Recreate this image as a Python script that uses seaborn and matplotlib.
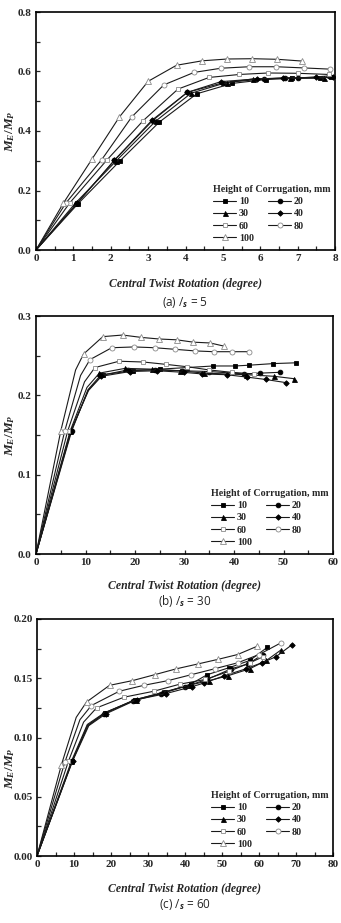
import numpy as np
import pandas as pd
import matplotlib
matplotlib.use("Agg")
import matplotlib.pyplot as plt
from matplotlib.lines import Line2D
from matplotlib.ticker import MultipleLocator, FormatStrFormatter
import seaborn as sns

HEIGHTS = ["10", "20", "30", "40", "60", "80", "100"]

# panel (a)  ratio 5
A_10_X = [0, 1.12, 2.25, 3.3, 4.3, 5.25, 6.15, 6.85, 7.6, 7.9]
A_10_Y = [0, 0.155, 0.300, 0.430, 0.525, 0.560, 0.573, 0.577, 0.578, 0.582]
A_20_X = [0, 1.1, 2.1, 3.12, 4.05, 5.0, 6.1, 6.65, 7.0, 7.85]
A_20_Y = [0, 0.157, 0.302, 0.435, 0.530, 0.562, 0.575, 0.578, 0.578, 0.585]
A_30_X = [0, 1.05, 2.15, 3.2, 4.15, 5.1, 5.8, 6.8, 7.7]
A_30_Y = [0, 0.157, 0.300, 0.433, 0.527, 0.563, 0.575, 0.578, 0.578]
A_40_X = [0, 1.1, 2.1, 3.1, 4.05, 4.95, 5.9, 6.6, 7.5, 7.95]
A_40_Y = [0, 0.157, 0.302, 0.436, 0.530, 0.566, 0.575, 0.578, 0.580, 0.580]
A_60_X = [0, 0.9, 1.9, 2.87, 3.8, 4.63, 5.44, 6.21, 7.0, 7.85]
A_60_Y = [0, 0.158, 0.303, 0.435, 0.541, 0.580, 0.590, 0.595, 0.594, 0.590]
A_80_X = [0, 0.8, 1.76, 2.56, 3.42, 4.23, 4.95, 5.7, 6.43, 7.17, 7.86]
A_80_Y = [0, 0.158, 0.304, 0.447, 0.555, 0.597, 0.611, 0.616, 0.616, 0.612, 0.608]
A_100_X = [0, 0.73, 1.5, 2.23, 3.0, 3.76, 4.45, 5.12, 5.79, 6.46, 7.13]
A_100_Y = [0, 0.157, 0.306, 0.447, 0.567, 0.621, 0.636, 0.642, 0.643, 0.641, 0.635]

# panel (b)  ratio 30  (index 2 is an unmarked knee point)
B_10_X = [0, 7.1, 10.6, 13.5, 19.5, 25.0, 30.5, 35.8, 40.2, 43.1, 47.9, 52.5]
B_10_Y = [0, 0.155, 0.207, 0.226, 0.231, 0.233, 0.235, 0.237, 0.237, 0.238, 0.240, 0.241]
B_20_X = [0, 7.2, 10.5, 13.0, 18.5, 24.0, 29.5, 35.0, 42.0, 45.3, 49.2]
B_20_Y = [0, 0.155, 0.207, 0.225, 0.232, 0.232, 0.231, 0.230, 0.227, 0.228, 0.229]
B_30_X = [0, 6.9, 10.3, 12.8, 18.0, 23.5, 29.0, 34.0, 42.5, 48.1, 52.1]
B_30_Y = [0, 0.155, 0.210, 0.228, 0.234, 0.233, 0.231, 0.228, 0.226, 0.224, 0.221]
B_40_X = [0, 7.0, 10.6, 13.2, 19.0, 24.5, 29.8, 33.5, 38.5, 42.6, 46.4, 50.5]
B_40_Y = [0, 0.155, 0.206, 0.224, 0.230, 0.231, 0.229, 0.227, 0.226, 0.223, 0.220, 0.216]
B_60_X = [0, 6.4, 9.8, 11.9, 16.8, 21.7, 26.3, 30.6, 35.0, 39.5, 44.0]
B_60_Y = [0, 0.155, 0.217, 0.235, 0.243, 0.242, 0.239, 0.236, 0.232, 0.229, 0.227]
B_80_X = [0, 5.8, 9.0, 10.9, 15.3, 19.8, 24.0, 28.1, 32.1, 35.9, 39.5, 43.0]
B_80_Y = [0, 0.155, 0.225, 0.245, 0.260, 0.261, 0.260, 0.258, 0.256, 0.255, 0.255, 0.255]
B_100_X = [0, 5.0, 8.0, 9.6, 13.5, 17.5, 21.3, 24.9, 28.4, 31.8, 35.2, 38.0]
B_100_Y = [0, 0.155, 0.232, 0.252, 0.274, 0.276, 0.273, 0.271, 0.270, 0.267, 0.266, 0.262]

# panel (c)  ratio 60  (index 2 is an unmarked knee point)
C_10_X = [0, 9.5, 13.8, 18.5, 26.5, 34.5, 41.5, 46.0, 52.0, 57.5, 62.2]
C_10_Y = [0, 0.080, 0.110, 0.121, 0.132, 0.138, 0.145, 0.153, 0.159, 0.165, 0.176]
C_20_X = [0, 9.5, 13.6, 18.0, 26.0, 33.5, 40.0, 46.0, 52.5, 57.0, 61.0]
C_20_Y = [0, 0.080, 0.110, 0.120, 0.131, 0.137, 0.143, 0.149, 0.158, 0.162, 0.170]
C_30_X = [0, 9.3, 13.6, 18.3, 26.8, 33.8, 41.0, 46.5, 51.5, 57.5, 62.0, 66.0]
C_30_Y = [0, 0.080, 0.111, 0.121, 0.132, 0.138, 0.144, 0.148, 0.152, 0.158, 0.165, 0.174]
C_40_X = [0, 9.6, 14.0, 18.6, 27.0, 34.8, 42.0, 45.2, 50.5, 56.5, 60.7, 64.5, 68.8]
C_40_Y = [0, 0.080, 0.110, 0.120, 0.132, 0.137, 0.143, 0.146, 0.152, 0.158, 0.163, 0.168, 0.178]
C_60_X = [0, 8.5, 12.6, 16.1, 23.5, 31.5, 38.6, 45.5, 52.0, 57.5, 61.0]
C_60_Y = [0, 0.080, 0.113, 0.125, 0.134, 0.139, 0.145, 0.149, 0.156, 0.163, 0.168]
C_80_X = [0, 7.5, 11.6, 14.7, 22.2, 28.8, 35.4, 41.7, 48.0, 54.2, 60.0, 66.0]
C_80_Y = [0, 0.079, 0.115, 0.127, 0.139, 0.144, 0.148, 0.153, 0.158, 0.163, 0.170, 0.180]
C_100_X = [0, 6.6, 10.6, 13.4, 19.6, 25.8, 31.8, 37.7, 43.4, 49.0, 54.2, 59.5]
C_100_Y = [0, 0.077, 0.117, 0.130, 0.144, 0.148, 0.153, 0.158, 0.162, 0.166, 0.170, 0.177]

PANEL_A = [(A_10_X, A_10_Y), (A_20_X, A_20_Y), (A_30_X, A_30_Y), (A_40_X, A_40_Y),
           (A_60_X, A_60_Y), (A_80_X, A_80_Y), (A_100_X, A_100_Y)]
PANEL_B = [(B_10_X, B_10_Y), (B_20_X, B_20_Y), (B_30_X, B_30_Y), (B_40_X, B_40_Y),
           (B_60_X, B_60_Y), (B_80_X, B_80_Y), (B_100_X, B_100_Y)]
PANEL_C = [(C_10_X, C_10_Y), (C_20_X, C_20_Y), (C_30_X, C_30_Y), (C_40_X, C_40_Y),
           (C_60_X, C_60_Y), (C_80_X, C_80_Y), (C_100_X, C_100_Y)]

CAPTIONS = ["(a) /$_\\mathsf{s}$ = 5", "(b) /$_\\mathsf{s}$ = 30", "(c) /$_\\mathsf{s}$ = 60"]

MARKERS = ["s", "o", "^", "D", "s", "o", "^"]
MSIZE = [3.4, 3.4, 3.6, 2.8, 3.4, 3.6, 3.8]
FILLED = [True, True, True, True, False, False, False]

sns.set_style("ticks")
plt.rcParams["font.family"] = ["Liberation Serif", "DejaVu Serif"]
plt.rcParams["font.weight"] = "bold"
plt.rcParams["mathtext.fontset"] = "custom"
plt.rcParams["mathtext.it"] = "Liberation Serif:italic:bold"
plt.rcParams["mathtext.rm"] = "Liberation Serif:bold"
plt.rcParams["mathtext.sf"] = "Open Sans:italic"

W, H = 341, 923
fig = plt.figure(figsize=(W / 100, H / 100), dpi=100)

# (left px, top px, right px, bottom px) of each axes box
BOXES = [(36, 12, 335, 250), (36, 316, 333, 554), (37, 619, 333, 856)]
XLAB_Y = [284, 586, 889]
CAP_Y = [303, 601, 904]
YLAB_Y = [131, 435, 768]
LIMITS = [((0, 8), (0, 0.8), 1, 0.5, 0.2, 0.1, "%.1f"),
          ((0, 60), (0, 0.3), 10, 5, 0.1, 0.05, "%.1f"),
          ((0, 80), (0, 0.2), 10, 5, 0.05, 0.025, "%.2f")]


def draw_panel(ax, panel, skip):
    for i, (xs, ys) in enumerate(panel):
        d = pd.DataFrame({"x": xs, "y": ys})
        mk = [k for k in range(len(xs)) if k not in skip]
        filled = FILLED[i]
        sns.lineplot(data=d, x="x", y="y", ax=ax, sort=False, estimator=None,
                     color="#1a1a1a", lw=0.8, marker=MARKERS[i], markersize=MSIZE[i],
                     markevery=mk,
                     markerfacecolor="black" if filled else "white",
                     markeredgecolor="black" if filled else "#8a8a8a",
                     markeredgewidth=0.6)


for p, (panel, box, lim) in enumerate(zip([PANEL_A, PANEL_B, PANEL_C], BOXES, LIMITS)):
    l, t, r, b = box
    ax = fig.add_axes([l / W, 1 - b / H, (r - l) / W, (b - t) / H])
    skip = {0} if p == 0 else {0, 2}
    draw_panel(ax, panel, skip)
    xl, yl, xmaj, xmin, ymaj, ymin, fmt = lim
    ax.set_xlim(*xl)
    ax.set_ylim(*yl)
    ax.xaxis.set_major_locator(MultipleLocator(xmaj))
    ax.xaxis.set_minor_locator(MultipleLocator(xmin))
    ax.yaxis.set_major_locator(MultipleLocator(ymaj))
    ax.yaxis.set_minor_locator(MultipleLocator(ymin))
    ax.yaxis.set_major_formatter(FormatStrFormatter(fmt))
    ax.tick_params(which="both", direction="in", length=2.6, width=0.9,
                   labelsize=8, pad=3, top=False, right=False)
    for s in ax.spines.values():
        s.set_linewidth(1.2)
        s.set_color("black")
    for lab in ax.get_xticklabels() + ax.get_yticklabels():
        lab.set_fontweight("bold")
    ax.set_xlabel("")
    ax.set_ylabel("")

    handles = []
    for i in range(len(HEIGHTS)):
        handles.append(Line2D([], [], color="#1a1a1a", lw=0.8, marker=MARKERS[i],
                              markersize=MSIZE[i],
                              markerfacecolor="black" if FILLED[i] else "white",
                              markeredgecolor="black" if FILLED[i] else "#8a8a8a",
                              markeredgewidth=0.6, label=HEIGHTS[i]))
    order = [0, 2, 4, 6, 1, 3, 5]
    leg = ax.legend([handles[k] for k in order], [HEIGHTS[k] for k in order],
                    ncol=2, loc="lower right", bbox_to_anchor=(0.985, 0.03),
                    borderaxespad=0, frameon=False, title="Height of Corrugation, mm",
                    alignment="left", fontsize=7.2, title_fontsize=7.2,
                    handlelength=2.3, handletextpad=0.3, columnspacing=1.4,
                    labelspacing=0.32, borderpad=0)
    leg.get_title().set_fontweight("bold")
    for txt in leg.get_texts():
        txt.set_fontweight("bold")

    cx = (l + r) / 2 / W
    fig.text(cx, 1 - XLAB_Y[p] / H, "Central Twist Rotation (degree)", ha="center",
             va="center", fontsize=8.5, fontweight="bold", fontstyle="italic")
    fig.text(10 / W, 1 - YLAB_Y[p] / H, "$M_E/M_P$", rotation=90, ha="center",
             va="center", fontsize=9.5)
    fig.text(cx, 1 - CAP_Y[p] / H, CAPTIONS[p], ha="center", va="center",
             fontsize=8.5, fontweight="normal", family=["Open Sans", "DejaVu Sans"])

fig.savefig("out.png", dpi=100)
